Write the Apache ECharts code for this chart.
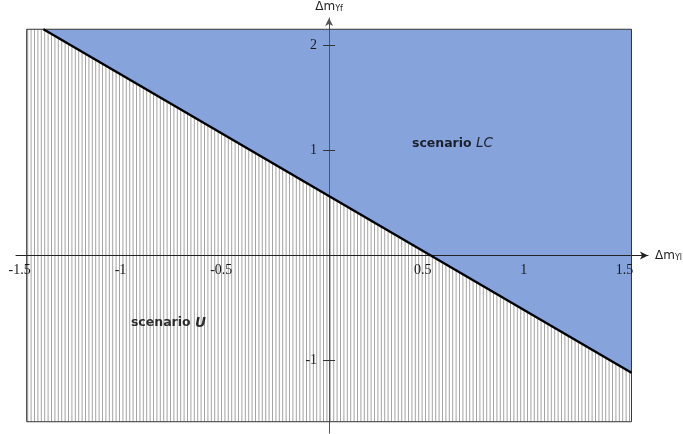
<!DOCTYPE html>
<html><head><meta charset="utf-8">
<script src="https://cdn.jsdelivr.net/npm/echarts@6/dist/echarts.min.js"></script>
<style>html,body{margin:0;padding:0;background:#fff}#c{width:683px;height:434px}</style>
</head><body><div id="c"></div>
<script>
// ---- data ----
const xTicks = [-1.5, -1, -0.5, 0.5, 1, 1.5];
const yTicks = [-1, 1, 2];
const frameX = [-1.5, 1.5];
const frameY = [-1.58, 2.15];
const boundaryX = [-1.417, 1.5];
const boundaryY = [2.15, -1.114];
const regionNames = ['LC', 'U'];
const axisRangeX = [-1.553, 1.582];
const axisRangeY = [-1.687, 2.257];

// hatch pattern (vertical lines)
const pat = document.createElement('canvas');
pat.width = 17; pat.height = 4;
const pc = pat.getContext('2d');
pc.fillStyle = '#fff'; pc.fillRect(0, 0, 17, 4);
pc.fillStyle = '#a4a4a4';
for (let i = 0; i < 5; i++) pc.fillRect(i * 3.4, 0, 1, 4);

const blueVerts = [[boundaryX[0], frameY[1]], [frameX[1], frameY[1]], [boundaryX[1], boundaryY[1]]];
const hatchVerts = [[frameX[0], frameY[1]], [boundaryX[0], boundaryY[0]], [boundaryX[1], boundaryY[1]], [frameX[1], frameY[0]], [frameX[0], frameY[0]]];
const frameVerts = [[frameX[0], frameY[0]], [frameX[1], frameY[0]], [frameX[1], frameY[1]], [frameX[0], frameY[1]]];

function polySeries(verts, style, z) {
  return {
    type: 'custom', coordinateSystem: 'cartesian2d', z: z, silent: true, clip: false,
    data: [verts[0]],
    renderItem: function (params, api) {
      return { type: 'polygon', shape: { points: verts.map(function (v) { return api.coord(v); }) }, style: style };
    }
  };
}

const tickFontFamily = 'Liberation Serif';
function tickLabelSeries(values, isX) {
  return {
    type: 'custom', coordinateSystem: 'cartesian2d', z: 14, silent: true, clip: false,
    data: values.map(function (v) { return isX ? [v, 0] : [0, v]; }),
    renderItem: function (params, api) {
      const p = api.coord([api.value(0), api.value(1)]);
      const v = isX ? api.value(0) : api.value(1);
      return {
        type: 'text',
        x: isX ? p[0] - 7 : p[0] - 12,
        y: isX ? p[1] + 8 : p[1],
        style: {
          text: String(v),
          fontFamily: tickFontFamily, fontSize: 14, fill: '#1a1a1a',
          align: isX ? 'center' : 'right',
          verticalAlign: isX ? 'top' : 'middle'
        }
      };
    }
  };
}

const nameStyle = {
  fontFamily: 'DejaVu Sans', fontSize: 12, color: '#222',
  rich: {
    m: { fontFamily: 'DejaVu Sans', fontSize: 12, color: '#222', lineHeight: 12 },
    s: { fontFamily: 'DejaVu Sans', fontSize: 8, color: '#222', lineHeight: 1, verticalAlign: 'bottom' }
  }
};
const textRich = {
  b: { fontFamily: 'DejaVu Sans', fontWeight: 'bold', fontSize: 12.5, color: '#000' },
  i: { fontFamily: 'DejaVu Sans', fontStyle: 'italic', fontSize: 13.5, color: '#000' },
  ib: { fontFamily: 'DejaVu Sans', fontStyle: 'italic', fontWeight: 'bold', fontSize: 13.5, color: '#000' }
};

const chart = echarts.init(document.getElementById('c'), null, { renderer: 'canvas' });
chart.setOption({
  animation: false,
  grid: { left: 16, right: 35, top: 18, bottom: 1, containLabel: false, outerBoundsMode: 'none' },
  xAxis: {
    type: 'value', min: axisRangeX[0], max: axisRangeX[1], z: 10,
    axisLine: { onZero: true, lineStyle: { color: '#222', width: 1 }, symbol: ['none', 'arrow'], symbolSize: [6, 8] },
    axisTick: { show: false },
    splitLine: { show: false },
    axisLabel: { show: false },
    name: '{m|Δm}{s|Yl}', nameLocation: 'end', nameGap: 7, nameTextStyle: nameStyle
  },
  yAxis: [{
    type: 'value', min: axisRangeY[0], max: axisRangeY[1], z: 10, position: 'left',
    axisLine: { onZero: true, lineStyle: { color: '#555', width: 1 }, symbol: ['none', 'arrow'], symbolSize: [6, 8] },
    axisTick: { customValues: yTicks, length: 6, lineStyle: { color: '#333' } },
    splitLine: { show: false },
    axisLabel: { show: false },
    name: '{m|Δm}{s|Yf}', nameLocation: 'end', nameGap: 5, nameTextStyle: nameStyle
  }, {
    type: 'value', min: axisRangeY[0], max: axisRangeY[1], z: 10, position: 'right',
    axisLine: { show: true, onZero: true, onZeroAxisIndex: 0, lineStyle: { color: 'rgba(0,0,0,0)' } },
    axisTick: { customValues: yTicks, length: 6, inside: false, lineStyle: { color: '#333' } },
    splitLine: { show: false },
    axisLabel: { show: false }
  }],
  series: [
    polySeries(hatchVerts, { fill: { image: pat, repeat: 'repeat' }, stroke: null }, 1),
    polySeries(blueVerts, { fill: 'rgb(135,163,220)', stroke: null }, 1),
    polySeries(frameVerts, { fill: null, stroke: '#333', lineWidth: 1 }, 11),
    {
      type: 'line', z: 12, silent: true, symbol: 'none', clip: false,
      data: boundaryX.map(function (x, i) { return [x, boundaryY[i]]; }),
      lineStyle: { color: '#000', width: 2.4 }
    },
    tickLabelSeries(xTicks, true),
    tickLabelSeries(yTicks, false),
    {
      type: 'scatter', z: 13, silent: true, symbolSize: 0,
      label: { show: true, position: 'inside', rich: textRich },
      data: [
        { value: [0.612, 1.06], label: { formatter: '{b|scenario }{i|' + regionNames[0] + '}' } },
        { value: [-0.797, -0.642], label: { formatter: '{b|scenario }{ib|' + regionNames[1] + '}' } }
      ]
    }
  ]
});
</script></body></html>
